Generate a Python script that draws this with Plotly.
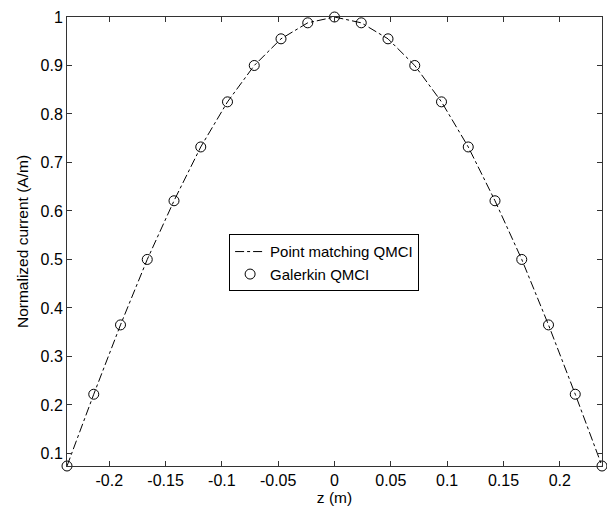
import plotly.graph_objects as go

z_vals = [-0.2375, -0.21375, -0.19, -0.16625, -0.1425, -0.11875, -0.095, -0.07125, -0.0475, -0.02375, 0.0,
          0.02375, 0.0475, 0.07125, 0.095, 0.11875, 0.1425, 0.16625, 0.19, 0.21375, 0.2375]
point_matching = [0.074, 0.222, 0.365, 0.500, 0.621, 0.732, 0.825, 0.900, 0.955, 0.988, 1.000,
                  0.988, 0.955, 0.900, 0.825, 0.732, 0.621, 0.500, 0.365, 0.222, 0.074]
galerkin = [0.074, 0.222, 0.365, 0.500, 0.621, 0.732, 0.825, 0.900, 0.955, 0.988, 1.000,
            0.988, 0.955, 0.900, 0.825, 0.732, 0.621, 0.500, 0.365, 0.222, 0.074]

x_ticks = [-0.2, -0.15, -0.1, -0.05, 0, 0.05, 0.1, 0.15, 0.2]
x_tick_labels = ["-0.2", "-0.15", "-0.1", "-0.05", "0", "0.05", "0.1", "0.15", "0.2"]
y_ticks = [0.1, 0.2, 0.3, 0.4, 0.5, 0.6, 0.7, 0.8, 0.9, 1.0]
y_tick_labels = ["0.1", "0.2", "0.3", "0.4", "0.5", "0.6", "0.7", "0.8", "0.9", "1"]

fig = go.Figure()
fig.add_trace(go.Scatter(x=z_vals, y=point_matching, mode="lines", name="Point matching QMCI",
                         line=dict(color="black", width=1, dash="dashdot")))
fig.add_trace(go.Scatter(x=z_vals, y=galerkin, mode="markers", name="Galerkin QMCI", cliponaxis=False,
                         marker=dict(symbol="circle-open", size=10, color="black",
                                     line=dict(width=1, color="black"))))

axis_common = dict(showgrid=False, zeroline=False, showline=True, linecolor="#333", linewidth=1,
                   mirror="allticks", ticks="inside", ticklen=5, tickcolor="#333",
                   tickfont=dict(family="Liberation Sans, Arial", size=16, color="black"))

fig.update_layout(
    width=607, height=512,
    margin=dict(l=67, r=5, t=17, b=46),
    paper_bgcolor="white", plot_bgcolor="white",
    font=dict(family="Liberation Sans, Arial", size=15.5, color="black"),
    showlegend=True,
    legend=dict(x=0.303, y=0.516, xanchor="left", yanchor="top",
                bgcolor="white", bordercolor="black", borderwidth=1,
                font=dict(size=15, color="black"), tracegroupgap=0),
    xaxis=dict(range=[-0.2375, 0.2375], tickvals=x_ticks, ticktext=x_tick_labels,
               title=dict(text="z (m)", standoff=2, font=dict(size=15.5)), **axis_common),
    yaxis=dict(range=[0.074, 1.0], tickvals=y_ticks, ticktext=y_tick_labels,
               title=dict(text="Normalized current (A/m)", standoff=8, font=dict(size=15.5)), **axis_common),
)

fig.write_html("out.html")
